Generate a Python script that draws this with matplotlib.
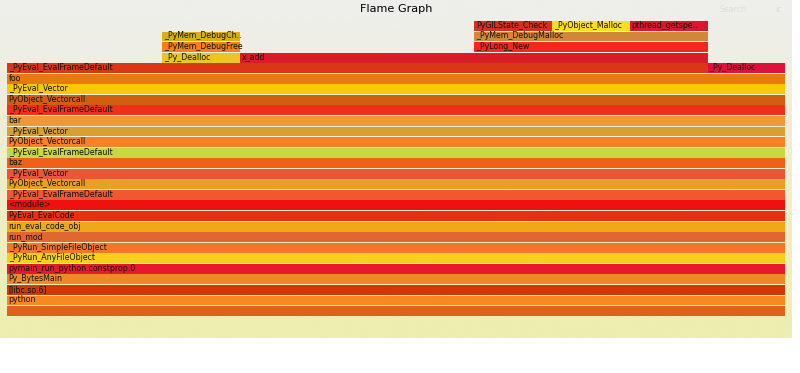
"""Flame graph recreation: stacked frames sized by sample count."""

import numpy as np
import matplotlib
matplotlib.use("Agg")
import matplotlib.pyplot as plt


# One entry per frame: name, stack depth, first sample, sample count, colour
frame_names = [
    "", "python", "[libc.so.6]", "Py_BytesMain",
    "pymain_run_python.constprop.0", "_PyRun_AnyFileObject",
    "_PyRun_SimpleFileObject", "run_mod", "run_eval_code_obj",
    "PyEval_EvalCode", "<module>", "_PyEval_EvalFrameDefault",
    "PyObject_Vectorcall", "_PyEval_Vector", "baz",
    "_PyEval_EvalFrameDefault", "PyObject_Vectorcall", "_PyEval_Vector", "bar",
    "_PyEval_EvalFrameDefault", "PyObject_Vectorcall", "_PyEval_Vector", "foo",
    "_PyEval_EvalFrameDefault", "_Py_Dealloc",
    "_Py_Dealloc", "x_add",
    "_PyMem_DebugFree", "_PyLong_New",
    "_PyMem_DebugCheckAddress", "_PyMem_DebugMalloc",
    "PyGILState_Check", "_PyObject_Malloc", "pthread_getspecific",
]
frame_depths = list(range(23)) + [23, 23, 24, 24, 25, 25, 26, 26, 27, 27, 27]
frame_starts = [0] * 23 + [0, 9, 2, 3, 2, 6, 2, 6, 6, 7, 8]
frame_samples = [10] * 23 + [9, 1, 1, 6, 1, 3, 1, 3, 1, 1, 1]
frame_colors = [
    "#e06020", "#f88820", "#d03808", "#f08828", "#e81830", "#f8d018",
    "#f07828", "#e06830", "#f0a818", "#e83010", "#f01010", "#f05830",
    "#e8a020", "#e85838", "#f06018", "#c8d840", "#f88028", "#d8a030",
    "#f09838", "#f03018", "#d06010", "#f8c800", "#e87810",
    "#d83818", "#e0103c",
    "#e8c820", "#d81c28",
    "#f88010", "#f02820",
    "#d8b010", "#d08838",
    "#d83020", "#f8e020", "#d8182c",
]

TOTAL = 10
MAX_DEPTH = 28

# SVG geometry (1200 px wide, 16 px frames) scaled down to the image
SCALE = 0.66
W, H = 800, 373
PX_PER_SAMPLE = 1180 / TOTAL          # in SVG pixels
CHAR_W = 12 * 0.59                    # flamegraph's text width guess


def short_label(name, samples):
    chars = int(samples * PX_PER_SAMPLE / CHAR_W)
    if chars < 3:
        return ""
    if len(name) <= chars:
        return name
    return name[:chars - 2] + ".."


fig = plt.figure(figsize=(W / 100, H / 100), dpi=100, facecolor="white")

# background gradient
bg_h = 338
bg = fig.add_axes([0, (H - bg_h) / H, 792 / W, bg_h / H])
top = np.array([0xee, 0xee, 0xee]) / 255
bottom = np.array([0xee, 0xee, 0xb0]) / 255
t = np.linspace(0, 1, 256)[:, None, None]
grad = top * (1 - t) + bottom * t
bg.imshow(grad, aspect="auto", extent=[0, 1, 0, 1])
bg.set_axis_off()

# frames
row_px = 16 * SCALE
ax = fig.add_axes([10 * SCALE / W, 57 / H,
                   1180 * SCALE / W, MAX_DEPTH * row_px / H])
ax.set_xlim(0, TOTAL)
ax.set_ylim(0, MAX_DEPTH)
ax.set_axis_off()
ax.patch.set_alpha(0)

ax.barh(frame_depths, frame_samples, left=frame_starts, height=15 / 16,
        align="edge", color=frame_colors, linewidth=0)

label_pt = 12 * SCALE * 72 / 100
for name, d, s, n in zip(frame_names, frame_depths, frame_starts,
                         frame_samples):
    label = short_label(name, n)
    if not label:
        continue
    ax.annotate(label, (s, d + 4.5 / 16), xytext=(3 * SCALE * 0.72, 0),
                textcoords="offset points", fontsize=label_pt,
                color="#111111", va="baseline", ha="left",
                family="DejaVu Sans")

# header texts
header_y = 1 - 12.5 / H
fig.text(600 * SCALE / W, header_y, "Flame Graph",
         fontsize=17 * SCALE * 0.72, ha="center", va="baseline",
         color="black", family="DejaVu Sans")
fig.text(1090 * SCALE / W, header_y, "Search",
         fontsize=label_pt, ha="left", va="baseline", color="#dcdcdc")
fig.text(1174 * SCALE / W, header_y, "ic",
         fontsize=label_pt, ha="left", va="baseline", color="#dcdcdc")

fig.savefig("out.png", dpi=100)
